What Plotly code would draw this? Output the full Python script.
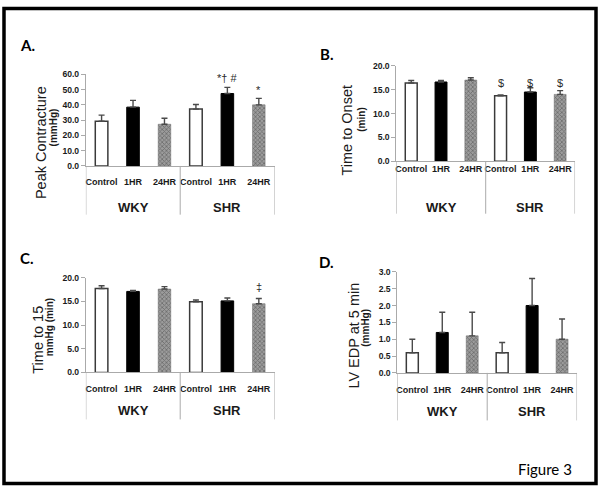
import plotly.graph_objects as go

# ---------------- data ----------------
categories = ["Control", "1HR", "24HR"]
groups = ["WKY", "SHR"]

peak_mean = [29.3, 38.5, 27.3, 37.2, 47.4, 40.0]
peak_err = [4.0, 4.4, 3.9, 3.0, 4.0, 4.2]

onset_mean = [16.4, 16.6, 17.0, 13.7, 14.5, 14.0]
onset_err = [0.5, 0.3, 0.5, 0.2, 0.9, 0.8]

t15_mean = [17.7, 17.1, 17.6, 14.9, 15.1, 14.5]
t15_err = [0.6, 0.2, 0.5, 0.4, 0.6, 1.1]

edp_mean = [0.6, 1.2, 1.1, 0.6, 2.0, 1.0]
edp_err = [0.4, 0.6, 0.7, 0.3, 0.8, 0.6]

peak_marks = ["", "", "", "", "*\u2020 #", "*"]
onset_marks = ["", "", "", "$", "$", "$"]
t15_marks = ["", "", "", "", "", "\u2021"]
edp_marks = ["", "", "", "", "", ""]

W, H = 600, 494
def fx(p):
    return p / W
def fy(p):
    return 1 - p / H

BOLDF = "Liberation Sans, Arial, sans-serif"
ARIAL = "Liberation Sans, Arial, sans-serif"
CAL = "Lato, Open Sans, sans-serif"

panels = [
    dict(name="A.", mean=peak_mean, err=peak_err, marks=peak_marks,
         x0=85, x1=274, ytop=70.7, ybot=164.3, ymax=60, dtick=10,
         cat_y=180.5, grp_y=206.7, div_b=214, mark_y=[75, 75, 75, 75, 75, 87],
         lab=(26.5, 41), title="Peak Contracture", tx=40, ty=140,
         sub="(mmHg)", sx=53, sy=125),
    dict(name="B.", mean=onset_mean, err=onset_err, marks=onset_marks,
         x0=396, x1=575, ytop=62.0, ybot=159.5, ymax=20, dtick=5,
         cat_y=168.3, grp_y=206.7, div_b=213, mark_y=[80] * 6,
         lab=(326, 50), title="Time to Onset", tx=346.7, ty=128,
         sub="(min)", sx=361.7, sy=117),
    dict(name="C.", mean=t15_mean, err=t15_err, marks=t15_marks,
         x0=85, x1=274, ytop=278.3, ybot=375.0, ymax=20, dtick=5,
         cat_y=392.3, grp_y=414.3, div_b=423, mark_y=[288] * 6,
         lab=(26, 258), title="Time to 15", tx=36.7, ty=342,
         sub="mmHg (min)", sx=48, sy=329),
    dict(name="D.", mean=edp_mean, err=edp_err, marks=edp_marks,
         x0=397, x1=577, ytop=272.3, ybot=375.5, ymax=3, dtick=0.5,
         cat_y=393.3, grp_y=415, div_b=424, mark_y=[0] * 6,
         lab=(326, 262), title="LV EDP at 5 min", tx=354, ty=337,
         sub="(mmHg)", sx=365, sy=329),
]

styles = [
    dict(color="white", line=dict(color="#3a3a3a", width=1.5), pattern=None),
    dict(color="black", line=dict(color="black", width=1), pattern=None),
    dict(color="#8a8a8a", line=dict(color="#6a6a6a", width=0.5),
         pattern=dict(shape="x", size=3, solidity=0.45, fgcolor="#3a3a3a", bgcolor="#9c9c9c")),
]

fig = go.Figure()
layout = dict(
    width=W, height=H, margin=dict(l=0, r=0, t=0, b=0),
    paper_bgcolor="white", plot_bgcolor="white", showlegend=False,
    barmode="overlay",
)
annotations = []
shapes = []

for pi, p in enumerate(panels):
    k = "" if pi == 0 else str(pi + 1)
    xa = "x" + k
    ya = "y" + k
    for ci, cat in enumerate(categories):
        idx = [ci, ci + 3]
        st = styles[ci]
        marker = dict(color=st["color"], line=st["line"])
        if st["pattern"]:
            marker["pattern"] = st["pattern"]
        fig.add_trace(go.Bar(
            x=idx, y=[p["mean"][i] for i in idx], width=0.4,
            marker=marker, xaxis=xa, yaxis=ya,
            error_y=dict(type="data", symmetric=False,
                         array=[p["err"][i] for i in idx], arrayminus=[0, 0],
                         color="#4a4a4a", thickness=1.4, width=3),
        ))
    layout["xaxis" + k] = dict(
        domain=[fx(p["x0"]), fx(p["x1"])], anchor=ya, range=[-0.5, 5.5],
        showline=True, linecolor="#aaaaaa", linewidth=1, showgrid=False, zeroline=False,
        tickvals=list(range(6)), ticktext=categories * 2, ticks="", ticklen=0, tickangle=0,
        tickfont=dict(family=BOLDF, size=9, color="#1a1a1a", weight="bold"),
        ticklabelstandoff=int(round(p["cat_y"] - p["ybot"] - 9.5)), fixedrange=True,
    )
    layout["yaxis" + k] = dict(
        domain=[fy(p["ybot"]), fy(p["ytop"])], anchor=xa, range=[0, p["ymax"]],
        dtick=p["dtick"], tickformat=".1f", showline=True, linecolor="#aaaaaa", linewidth=1,
        ticks="outside", ticklen=4, tickcolor="#aaaaaa", showgrid=False, zeroline=False,
        tickfont=dict(family=BOLDF, size=8.6, color="#1a1a1a", weight="bold"),
        fixedrange=True,
    )
    for xv in [-0.5, 2.5, 5.5]:
        shapes.append(dict(type="line", xref=xa, yref="paper", x0=xv, x1=xv,
                           y0=fy(p["ybot"]), y1=fy(p["div_b"]),
                           line=dict(color="#aaaaaa", width=1)))
    for gi, g in enumerate(groups):
        annotations.append(dict(text=g, xref=xa, yref="paper", x=gi * 3 + 1, y=fy(p["grp_y"]),
                                showarrow=False, xanchor="center", yanchor="middle",
                                font=dict(family=BOLDF, size=13, color="#1a1a1a", weight="bold")))
    for i, m in enumerate(p["marks"]):
        if m:
            annotations.append(dict(text=m, xref=xa, yref="paper", x=i, y=fy(p["mark_y"][i]),
                                    showarrow=False, xanchor="center", yanchor="middle",
                                    font=dict(family=ARIAL, size=11, color="#2a2a2a")))
    annotations.append(dict(text="<b>" + p["name"] + "</b>", xref="paper", yref="paper",
                            x=fx(p["lab"][0]), y=fy(p["lab"][1]), showarrow=False,
                            xanchor="center", yanchor="middle",
                            font=dict(family=CAL, size=15, color="black")))
    annotations.append(dict(text=p["title"], xref="paper", yref="paper",
                            x=fx(p["tx"]), y=fy(p["ty"]), showarrow=False, textangle=-90,
                            xanchor="center", yanchor="middle",
                            font=dict(family=ARIAL, size=14.5, color="#1a1a1a")))
    annotations.append(dict(text=p["sub"], xref="paper", yref="paper",
                            x=fx(p["sx"]), y=fy(p["sy"]), showarrow=False, textangle=-90,
                            xanchor="center", yanchor="middle",
                            font=dict(family=BOLDF, size=10, color="#1a1a1a", weight="bold")))

annotations.append(dict(text="Figure 3", xref="paper", yref="paper", x=fx(544.5), y=fy(474),
                        showarrow=False, xanchor="center", yanchor="middle",
                        font=dict(family=CAL, size=15, color="black")))

shapes.append(dict(type="rect", xref="paper", yref="paper",
                   x0=fx(3), x1=fx(596), y0=fy(3.5), y1=fy(488.5),
                   line=dict(color="black", width=3.5)))

layout["annotations"] = annotations
layout["shapes"] = shapes
fig.update_layout(**layout)
fig.write_html("out.html", config={"displayModeBar": False, "staticPlot": True},
               post_script="document.body.style.margin='0';")
